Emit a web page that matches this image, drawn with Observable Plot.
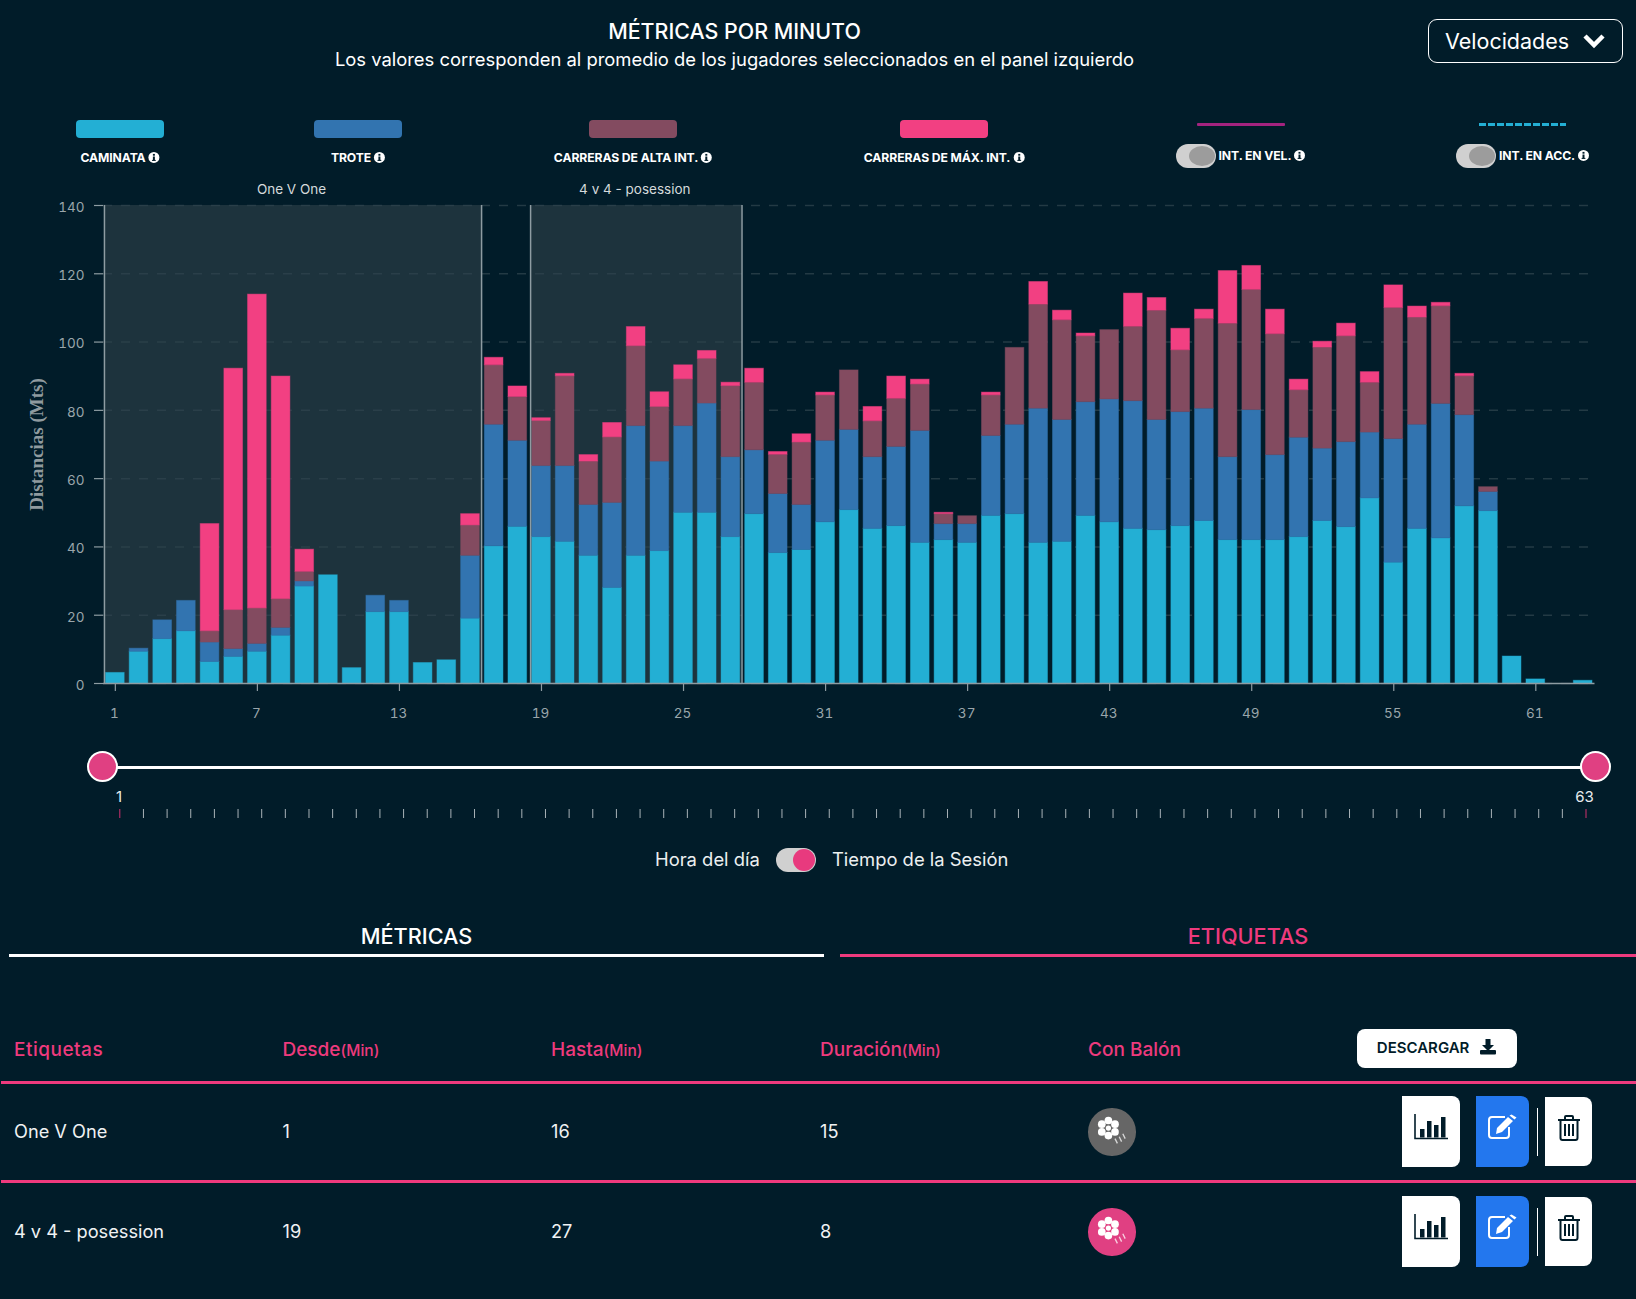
<!DOCTYPE html>
<html lang="es">
<head>
<meta charset="utf-8">
<script src="https://cdn.jsdelivr.net/npm/d3@7"></script>
<script src="https://cdn.jsdelivr.net/npm/@observablehq/plot@0.6"></script>
<style>
  html,body{margin:0;padding:0;background:#011c29;}
  #page{position:relative;width:1636px;height:1299px;overflow:hidden;background:#011c29;color:#fff;font-family:Inter,Roboto,sans-serif;}
  #page > *{position:absolute;}
  .c{text-align:center;white-space:nowrap;transform:translate(-50%,-50%);line-height:1;}
  .l{white-space:nowrap;transform:translateY(-50%);line-height:1;}
  .leg{font-size:12.2px;font-weight:700;letter-spacing:-.1px;display:inline-flex;align-items:center;gap:3px;}
  .toggle{border-radius:12px;background:#d0d0d0;}
  .toggle i{position:absolute;top:2px;right:1px;width:26px;height:20px;border-radius:50%;background:#9c9c9c;display:block;}
  svg{overflow:visible;}
</style>
</head>
<body>
<div id="page"></div>
<script>
const minutes = d3.range(1, 64);
const caminata = [3.1,9.3,13,15.3,6.3,7.8,9.3,14,28.4,31.7,4.5,20.9,20.9,6,6.8,19,40.2,45.9,42.9,41.5,37.4,28,37.4,38.8,50,50,42.9,49.6,38.2,39.1,47.2,50.8,45.3,46.1,41.2,42,41.2,49.1,49.6,41.2,41.5,49.1,47.2,45.3,44.9,46.1,47.6,42,42,42,42.9,47.6,45.8,54.2,35.4,45.3,42.5,51.9,50.5,7.9,1.2,0,0.8];
const trote = [0,0.9,5.5,8.9,5.7,2.3,2.3,2.3,1.5,0,0,4.8,3.3,0,0,18.4,35.6,25.2,20.8,22.2,14.9,24.9,38,26.2,25.4,32,23.4,18.7,17.3,13.2,23.9,23.5,21,23.2,32.8,4.7,5.5,23.4,26.2,39.3,35.7,33.3,36,37.4,32.3,33.4,32.9,24.3,38.1,24.9,29.1,21.2,24.9,19.3,36.2,30.5,39.4,26.7,5.6,0,0,0,0];
const altaInt = [0,0,0,0,3.3,11.4,10.4,8.4,2.8,0,0,0,0,0,0,8.9,17.4,12.8,13.2,26.3,12.7,19.2,23.4,16,13.7,13.1,20.8,19.8,11.5,18.3,13.3,17.4,10.5,14.1,13.6,2.9,2.3,11.9,22.5,30.5,29.2,19.3,20.3,21.8,32,18.1,26.3,39.1,35.2,35.4,13.9,29.6,31,14.6,38.4,31.4,28.6,11.4,1.4,0,0,0,0];
const maxInt = [0,0,0,0,31.4,70.7,91.9,65.2,6.5,0,0,0,0,0,0,3.3,2.2,3.1,0.8,0.7,1.9,4.2,5.6,4.3,4.1,2.3,1,4.1,0.8,2.4,0.8,0,4.2,6.5,1.4,0.4,0,0.8,0,6.6,2.8,0.8,0,9.7,3.7,6.3,2.7,15.4,7,7.2,3.1,1.7,3.7,3.1,6.6,3.2,1,0.7,0,0,0,0,0];

const seriesNames = ["CAMINATA","TROTE","CARRERAS DE ALTA INT.","CARRERAS DE MÁX. INT."];
const seriesValues = [caminata, trote, altaInt, maxInt];
const seriesColors = ["#23afd4","#3274b0","#834b60","#f24082"];

const yTicks = [0,20,40,60,80,100,120,140];
const xTicks = [1,7,13,19,25,31,37,43,49,55,61];

const labelNames = ["One V One","4 v 4 - posession"];
const labelFrom = [1,19];
const labelTo = [16,27];
const labelDuration = [15,8];
const labelBall = [false,true];

const rows = [];
minutes.forEach((m,i)=>{
  let base = 0;
  seriesNames.forEach((s,k)=>{
    const v = seriesValues[k][i];
    if (v > 0) rows.push({minute:m, series:s, y1:base, y2:base+v});
    base += v;
  });
});
const regions = labelNames.map((n,i)=>({name:n, x1:labelFrom[i]-0.46, x2:labelTo[i]+0.47}));

const page = document.getElementById("page");
function add(html, css, cls){
  const d = document.createElement("div");
  if (cls) d.className = cls;
  d.style.cssText = css;
  d.innerHTML = html;
  page.appendChild(d);
  return d;
}
const info = `<svg width="11" height="11" viewBox="0 0 11 11" style="flex:none"><circle cx="5.5" cy="5.5" r="5.5" fill="#fff"/><rect x="4.5" y="4.6" width="2" height="4" fill="#011c29"/><rect x="4.5" y="2" width="2" height="1.8" fill="#011c29"/><rect x="3.6" y="8" width="3.8" height="1" fill="#011c29"/></svg>`;

/* Heading */
add("MÉTRICAS POR MINUTO","left:734.5px;top:31.5px;font-size:21.4px;font-weight:500;","c");
add("Los valores corresponden al promedio de los jugadores seleccionados en el panel izquierdo","left:734.5px;top:59px;font-size:18.4px;","c");
add(`<span style="position:absolute;left:16px;top:20.5px;transform:translateY(-50%);font-size:21.5px;white-space:nowrap">Velocidades</span>
<svg style="position:absolute;left:153px;top:12px" width="24" height="18" viewBox="0 0 24 18"><path d="M3 4l9 9 9-9" fill="none" stroke="#fff" stroke-width="4.5"/></svg>`,
"left:1428px;top:19px;width:193px;height:42px;border:1px solid #fff;border-radius:9px;");

/* Legend */
const legendX = [[76,164],[314,402],[589,677],[900,988]];
seriesNames.forEach((s,i)=>{
  add("",`left:${legendX[i][0]}px;top:120px;width:${legendX[i][1]-legendX[i][0]}px;height:18px;border-radius:4px;background:${seriesColors[i]};`);
  add(`<span class="leg">${s}${info}</span>`,`left:${(legendX[i][0]+legendX[i][1])/2}px;top:155.5px;`,"c");
});
add("","left:1197px;top:122.5px;width:88px;height:3px;background:#a3237f;border-radius:1px;");
add("","left:1479px;top:122.5px;width:87px;height:3px;background:repeating-linear-gradient(90deg,#23afd4 0 7px,transparent 7px 9px);");
add("<i></i>","left:1176px;top:144px;width:40px;height:24px;","toggle");
add("<i></i>","left:1456px;top:144px;width:40px;height:24px;","toggle");
add(`<span class="leg">INT. EN VEL.${info}</span>`,"left:1218.5px;top:153.5px;","l");
add(`<span class="leg">INT. EN ACC.${info}</span>`,"left:1499px;top:153.5px;","l");

/* Chart */
const chart = Plot.plot({
  width:1636, height:570,
  marginLeft:103, marginRight:41.5, marginTop:35, marginBottom:57,
  style:{background:"transparent", fontFamily:"Inter,Roboto,sans-serif", fontSize:"13.5px", overflow:"visible"},
  x:{type:"linear", domain:[0.5,63.5]},
  y:{domain:[0,140]},
  color:{domain:seriesNames, range:seriesColors},
  marks:[
    Plot.rect(regions,{x1:"x1",x2:"x2",y1:0,y2:140,fill:"#1d333d"}),
    Plot.gridY(yTicks,{stroke:"#2f444e",strokeOpacity:0.75,strokeDasharray:"9,9",strokeWidth:1.5}),
    Plot.rect(rows,{x1:d=>d.minute-0.5,x2:d=>d.minute+0.5,y1:"y1",y2:"y2",fill:"series",stroke:"series",strokeOpacity:0.45,strokeWidth:1,insetLeft:2.5,insetRight:2.5}),
    Plot.ruleX(regions,{x:"x1",y1:0,y2:140,stroke:"#8e9ca2",strokeWidth:1.5}),
    Plot.ruleX(regions,{x:"x2",y1:0,y2:140,stroke:"#8e9ca2",strokeWidth:1.5}),
    Plot.ruleY([0],{stroke:"#8e9ca2",strokeWidth:1.5}),
    Plot.axisY(yTicks,{anchor:"left",label:null,tickSize:9,text:null,stroke:"#8e9ca2",strokeWidth:1.2}),
    Plot.axisY(yTicks,{anchor:"left",label:null,tickSize:0,tickPadding:19,tickFormat:d=>d,fill:"#9aa6ab",dy:2}),
    Plot.axisX(xTicks,{anchor:"bottom",label:null,tickSize:8,text:null,stroke:"#8e9ca2",strokeWidth:1.2}),
    Plot.axisX(xTicks,{anchor:"bottom",label:null,tickSize:0,tickPadding:25,tickFormat:d=>d,fill:"#9aa6ab",dx:-1}),
    Plot.text(regions,{x:d=>(d.x1+d.x2)/2,y:140,text:"name",dy:-16,dx:-1.5,fill:"#d5dadc",fontSize:13.5}),
    Plot.text(["Distancias (Mts)"],{frameAnchor:"left",textAnchor:"middle",rotate:-90,dx:-67,fill:"#8f9a9f",fontFamily:"Liberation Serif",fontWeight:"bold",fontSize:19})
  ]
});
chart.style.cssText += ";position:absolute;left:0;top:170.3px;";
page.appendChild(chart);

/* Range slider */
add("","left:103px;top:765.5px;width:1492px;height:3px;background:#fff;");
[102.5,1595.5].forEach(x=>add("",`left:${x-15.5}px;top:750.5px;width:27px;height:27px;border:2px solid #fff;border-radius:50%;background:#e04082;`));
add("1","left:119px;top:795.5px;font-size:15px;color:#e8ecee;","c");
add("63","left:1584.5px;top:795.5px;font-size:15px;color:#e8ecee;","c");
const sliderTicks = Plot.plot({
  width:1636, height:9, marginLeft:119.3, marginRight:50.5, marginTop:0, marginBottom:0,
  style:{background:"transparent",overflow:"visible"},
  x:{domain:[1,63], axis:null},
  marks:[Plot.ruleX(minutes,{x:d=>d,stroke:d=>(d===1||d===63)?"#d0306f":"#a9b3b8",strokeWidth:1})]
});
sliderTicks.style.cssText += ";position:absolute;left:0;top:809px;";
page.appendChild(sliderTicks);

/* Time toggle */
add("Hora del día","left:655px;top:859px;font-size:18.4px;color:#eceff0;","l");
add(`<i style="right:1px;background:#e83a7e;width:22px;height:22px;top:1px"></i>`,"left:776px;top:848px;width:40px;height:24px;","toggle");
add("Tiempo de la Sesión","left:832px;top:859px;font-size:18.4px;color:#eceff0;","l");

/* Tabs */
add("MÉTRICAS","left:416.5px;top:937px;font-size:21.7px;font-weight:500;","c");
add("","left:9px;top:954px;width:815px;height:3px;background:#fff;");
add("ETIQUETAS","left:1248px;top:937px;font-size:21.7px;font-weight:500;color:#ee3a7d;","c");
add("","left:840px;top:954px;width:796px;height:3px;background:#ee3a7d;");

/* Table */
const headers = [["Etiquetas",""],["Desde","(Min)"],["Hasta","(Min)"],["Duración","(Min)"],["Con Balón",""]];
const colX = [14,282.5,551,820,1088];
headers.forEach((h,i)=>add(`${h[0]}<span style="font-size:15.5px">${h[1]}</span>`,`left:${colX[i]}px;top:1048.5px;font-size:19px;font-weight:500;color:#ee3a7d;${i===0?"letter-spacing:.5px;":""}`,"l"));
add(`DESCARGAR <svg width="18" height="16" viewBox="0 0 18 16" style="margin-left:6px;vertical-align:-2px"><path d="M6.5 0h5v6h3.5L9 12 3 6h3.5z" fill="#011c29"/><rect x="1" y="11" width="16" height="4.5" rx="1" fill="#011c29"/></svg>`,
  "left:1357px;top:1029px;width:160px;height:39px;line-height:38px;text-align:center;white-space:nowrap;background:#fff;color:#011c29;border-radius:8px;font-size:15px;font-weight:600;");
add("","left:1px;top:1080.5px;width:1635px;height:3px;background:#ee3a7d;");
add("","left:1px;top:1180px;width:1635px;height:3px;background:#ee3a7d;");

const iconBars = `<svg width="34" height="26" viewBox="0 0 34 26"><path d="M1 0v24.5h33" fill="none" stroke="#011c29" stroke-width="1.6"/><rect x="6" y="15" width="4.5" height="8.5" fill="#011c29"/><rect x="13" y="7" width="4.5" height="16.5" fill="#011c29"/><rect x="20" y="11" width="4.5" height="12.5" fill="#011c29"/><rect x="27" y="3" width="4.5" height="20.5" fill="#011c29"/></svg>`;
const iconEdit = `<svg width="30" height="24" viewBox="0 0 30 24"><path d="M21 12v8a3 3 0 0 1-3 3H4a3 3 0 0 1-3-3V5a3 3 0 0 1 3-3h13" fill="none" stroke="#fff" stroke-width="2"/><path d="M8 19l1-6L20 2l5 4L14 17z" fill="#fff"/><path d="M21.500 0.500l5 4 2-2-5-3z" fill="#fff"/></svg>`;
const iconTrash = `<svg width="24" height="26" viewBox="0 0 24 26"><path d="M1 5h22M8 5V2a1 1 0 0 1 1-1h6a1 1 0 0 1 1 1v3M3.500 5v18a2 2 0 0 0 2 2h13a2 2 0 0 0 2-2V5" fill="none" stroke="#011c29" stroke-width="2"/><path d="M8 9v12M12 9v12M16 9v12" stroke="#011c29" stroke-width="2"/></svg>`;
const ball = `<svg width="36" height="36" viewBox="0 0 30 30"><g fill="#fff"><circle cx="12" cy="11.700" r="2.200"/><circle cx="12" cy="5.400" r="3.200"/><circle cx="12" cy="18" r="3.200"/><circle cx="6.500" cy="8.500" r="3.200"/><circle cx="17.500" cy="8.500" r="3.200"/><circle cx="6.500" cy="14.900" r="3.200"/><circle cx="17.500" cy="14.900" r="3.200"/></g><path d="M17.500 20.500l2 4M21 19l2 4M24 16.500l2 4" stroke="#fff" stroke-opacity=".75" stroke-width="1.100"/></svg>`;

const rowY = [1131, 1231];
labelNames.forEach((n,i)=>{
  const cy = rowY[i];
  [n,labelFrom[i],labelTo[i],labelDuration[i]].forEach((v,j)=>add(v,`left:${colX[j]}px;top:${cy}px;font-size:18.200px;color:#f0f2f3;`,"l"));
  add(ball,`left:1088px;top:${cy-23}px;width:47.500px;height:47.500px;border-radius:50%;background:${labelBall[i]?"#e04082":"#666"};display:flex;align-items:center;justify-content:center;`);
  const top = cy-35;
  const flex = "display:flex;align-items:center;justify-content:center;";
  add(`<div style="transform:translateY(-3px)">${iconBars}</div>`,`left:1402px;top:${top}px;width:58px;height:71px;background:#fff;border-radius:0 8px 8px 0;${flex}`);
  add(`<div style="transform:translateY(-3px)">${iconEdit}</div>`,`left:1476px;top:${top}px;width:53px;height:71px;background:#2377ee;border-radius:0 8px 8px 0;${flex}`);
  add("",`left:1537px;top:${top+12}px;width:1px;height:48px;background:#fff;`);
  add(`<div style="transform:translateY(-2px)">${iconTrash}</div>`,`left:1545px;top:${top+1}px;width:47px;height:69px;background:#fff;border-radius:0 8px 8px 0;${flex}`);
});
</script>
</body>
</html>
